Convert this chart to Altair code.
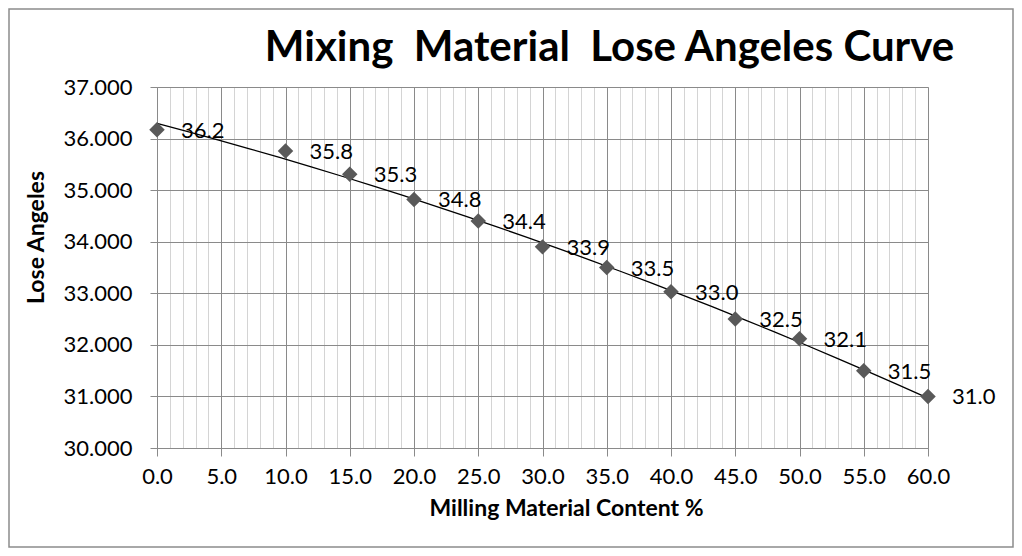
import altair as alt
import pandas as pd

# data
content = [0, 10, 15, 20, 25, 30, 35, 40, 45, 50, 55, 60]
angles = [36.17, 35.76, 35.31, 34.82, 34.40, 33.90, 33.50, 33.03, 32.50, 32.12, 31.50, 31.00]
labels = ["36.2", "35.8", "35.3", "34.8", "34.4", "33.9", "33.5", "33.0", "32.5", "32.1", "31.5", "31.0"]
major_ticks = [0, 5, 10, 15, 20, 25, 30, 35, 40, 45, 50, 55, 60]
minor_ticks = list(range(0, 61))
y_ticks = [30, 31, 32, 33, 34, 35, 36, 37]

df = pd.DataFrame({"x": content, "y": angles, "label": labels})

FONT = "Lato"
W, H = 771, 361
PAD = {"left": 149, "top": 79, "right": 86, "bottom": 100}
GRID_MAJOR = "#8a8a8a"
GRID_MINOR = "#d4d4d4"

xscale = alt.Scale(domain=[0, 60], nice=False, zero=False)
yscale = alt.Scale(domain=[30, 37], nice=False, zero=False)

base = alt.Chart(df)

minor = base.mark_point(opacity=0).encode(
    x=alt.X("x:Q", scale=xscale, axis=alt.Axis(
        orient="top", values=minor_ticks, grid=True, gridColor=GRID_MINOR, gridWidth=1,
        labels=False, ticks=False, domain=False, title=None)),
    y=alt.Y("y:Q", scale=yscale, axis=None),
)

main = base.mark_point(opacity=0).encode(
    x=alt.X("x:Q", scale=xscale, axis=alt.Axis(
        values=major_ticks, format=".1f", grid=True, gridColor=GRID_MAJOR, gridWidth=1,
        domainColor=GRID_MAJOR, tickColor=GRID_MAJOR, tickSize=8,
        labelFont=FONT, labelFontSize=22, labelColor="#000", labelPadding=10,
        labelFlush=False, labelOverlap=False,
        title="Milling Material Content %", titleFont=FONT, titleFontSize=23,
        titleFontWeight="bold", titleColor="#000", titlePadding=10,
        titleX=409, titleAlign="center")),
    y=alt.Y("y:Q", scale=yscale, axis=alt.Axis(
        values=y_ticks, format=".3f", grid=True, gridColor=GRID_MAJOR, gridWidth=1,
        domainColor=GRID_MAJOR, tickColor=GRID_MAJOR, tickSize=7,
        labelFont=FONT, labelFontSize=22, labelColor="#000", labelPadding=18,
        labelFlush=False, labelOverlap=False,
        title="Lose Angeles", titleFont=FONT, titleFontSize=23,
        titleFontWeight="bold", titleColor="#000", titlePadding=15,
        titleY=150, titleAlign="center")),
)

trend = base.transform_regression(
    "x", "y", method="poly", order=2, extent=[0, 60]
).mark_line(color="#000", strokeWidth=1.3).encode(
    x=alt.X("x:Q", scale=xscale, axis=None),
    y=alt.Y("y:Q", scale=yscale, axis=None),
)

points = base.mark_point(shape="diamond", filled=True, color="#595959", opacity=1, size=240).encode(
    x=alt.X("x:Q", scale=xscale, axis=None),
    y=alt.Y("y:Q", scale=yscale, axis=None),
)

text = base.mark_text(align="left", baseline="middle", dx=24, dy=1, font=FONT, fontSize=22, color="#000").encode(
    x=alt.X("x:Q", scale=xscale, axis=None),
    y=alt.Y("y:Q", scale=yscale, axis=None),
    text="label:N",
)

frame = alt.Chart(pd.DataFrame({"k": [0]})).mark_rect(
    fillOpacity=0, stroke="#8c8c8c", strokeWidth=1.5
).encode(
    x=alt.value(-148), x2=alt.value(W + PAD["right"] - 1),
    y=alt.value(-78), y2=alt.value(H + PAD["bottom"] - 1),
)

chart = alt.layer(minor, main, trend, points, text, frame).resolve_axis(
    x="independent", y="independent"
).properties(
    width=W, height=H,
    autosize=alt.AutoSizeParams(type="none"),
    padding=PAD,
    title=alt.TitleParams(
        "Mixing\u00a0 Material\u00a0 Lose Angeles Curve",
        font=FONT, fontSize=42, fontWeight="bold", color="#000",
        anchor="middle", frame="group", dx=67, dy=95, baseline="alphabetic", offset=0,
    ),
).configure_view(stroke=GRID_MAJOR).configure(background="white")

chart.save("out.html", embed_options={"renderer": "svg", "actions": False})
